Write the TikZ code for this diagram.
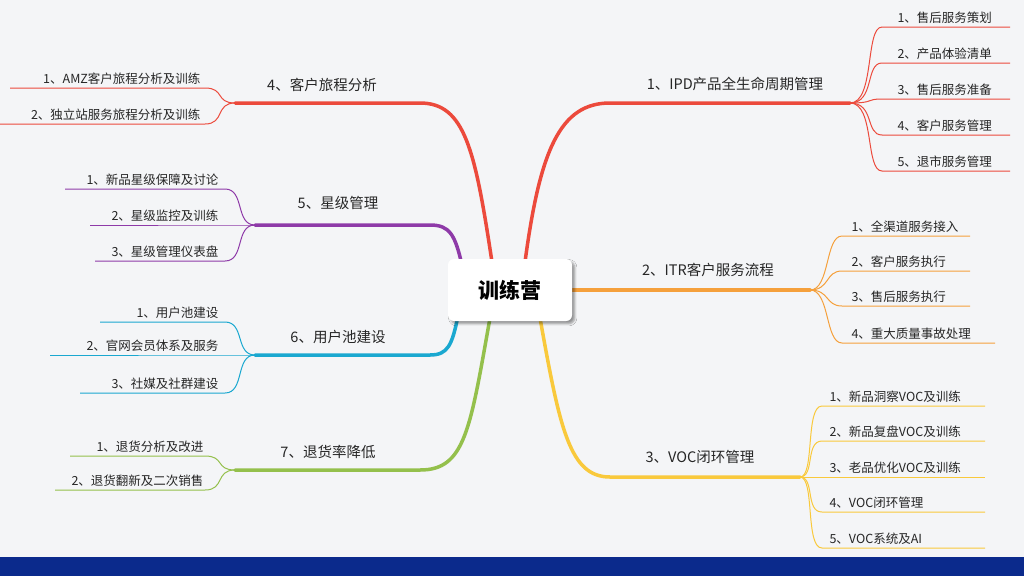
\documentclass[tikz,border=0pt]{standalone}
\usepackage{fontspec}
\setmainfont{Noto Sans CJK SC}
\usetikzlibrary{shadows.blur}
\definecolor{bgc}{HTML}{F4F5F7}
\definecolor{bandc}{HTML}{0B2A8C}
\definecolor{cred}{HTML}{EC4A3C}
\definecolor{cora}{HTML}{F5A03C}
\definecolor{cyel}{HTML}{F9C93C}
\definecolor{cpur}{HTML}{8E3AA8}
\definecolor{ccya}{HTML}{1AA8D0}
\definecolor{cgrn}{HTML}{94C04C}
\tikzset{
  mainlbl/.style={font=\fontsize{14.5}{17}\selectfont, text=black!85},
  sublbl/.style={font=\fontsize{12.5}{15}\selectfont, text=black!85},
  trunk/.style={line width=3.5pt, line cap=round},
  twig/.style={line width=1pt}
}
\begin{document}
\begin{tikzpicture}[x=1pt,y=-1pt]
\fill[bgc] (0,0) rectangle (1024,576);
\fill[bandc] (0,557) rectangle (1024,576);
\useasboundingbox (0,0) rectangle (1024,576);
% trunks
\draw[trunk,cred] (525,262) .. controls (540,150) and (560,103) .. (610,103) -- (850,103) coordinate (j1);
\draw[trunk,cora] (570,290) -- (810,290) coordinate (j2);
\draw[trunk,cyel] (540,318) .. controls (560,430) and (570,477) .. (610,477) -- (800,477) coordinate (j3);
\draw[trunk,cred] (492,262) .. controls (475,150) and (465,103) .. (420,103) -- (235,103) coordinate (j4);
\draw[trunk,cpur] (462,265) .. controls (455,235) and (450,225) .. (430,225) -- (255,225) coordinate (j5);
\draw[trunk,ccya] (458,316) .. controls (452,345) and (448,355) .. (430,355) -- (255,355) coordinate (j6);
\draw[trunk,cgrn] (490,318) .. controls (470,430) and (465,470) .. (420,470) -- (235,470) coordinate (j7);
% center
\node[fill=white, rounded corners=6pt, blur shadow, minimum width=124pt, minimum height=62pt,
  font=\fontsize{21}{25}\selectfont\bfseries] (hub) at (510,290) {训练营};
% main labels
\node[mainlbl] (m1) at (735,84) {1、IPD产品全生命周期管理};
\node[mainlbl] (m2) at (708,270) {2、ITR客户服务流程};
\node[mainlbl] (m3) at (700,457) {3、VOC闭环管理};
\node[mainlbl] (m4) at (322,85) {4、客户旅程分析};
\node[mainlbl] (m5) at (338,203) {5、星级管理};
\node[mainlbl] (m6) at (338,337) {6、用户池建设};
\node[mainlbl] (m7) at (328,452) {7、退货率降低};
% right sub branches
\foreach \y/\t in {27/1、售后服务策划, 63/2、产品体验清单, 99/3、售后服务准备, 135/4、客户服务管理, 171/5、退市服务管理}{
  \draw[twig,cred] (j1) .. controls (875,103) and (865,\y) .. (882,\y) -- (1010,\y);
  \node[sublbl, anchor=south west] at (894,\y) {\t};
}
\foreach \y/\t/\e in {236/1、全渠道服务接入/970, 271/2、客户服务执行/970, 306/3、售后服务执行/970, 343/4、重大质量事故处理/995}{
  \draw[twig,cora] (j2) .. controls (830,290) and (825,\y) .. (842,\y) -- (\e,\y);
  \node[sublbl, anchor=south west] at (848,\y) {\t};
}
\foreach \y/\t in {406/1、新品洞察VOC及训练, 441/2、新品复盘VOC及训练, 477/3、老品优化VOC及训练, 512/4、VOC闭环管理, 548/5、VOC系统及AI}{
  \draw[twig,cyel] (j3) .. controls (815,477) and (805,\y) .. (822,\y) -- (985,\y);
  \node[sublbl, anchor=south west] at (826,\y) {\t};
}
% left sub branches
\foreach \y/\t/\e in {88/1、AMZ客户旅程分析及训练/10, 124/2、独立站服务旅程分析及训练/0}{
  \draw[twig,cred] (j4) .. controls (215,103) and (225,\y) .. (205,\y) -- (\e,\y);
  \node[sublbl, anchor=south east] at (204,\y) {\t};
}
\foreach \y/\t/\e in {189/1、新品星级保障及讨论/65, 225/2、星级监控及训练/90, 261/3、星级管理仪表盘/95}{
  \draw[twig,cpur] (j5) .. controls (235,225) and (245,\y) .. (225,\y) -- (\e,\y);
  \node[sublbl, anchor=south east] at (222,\y) {\t};
}
\foreach \y/\t/\e in {322/1、用户池建设/100, 355/2、官网会员体系及服务/50, 393/3、社媒及社群建设/80}{
  \draw[twig,ccya] (j6) .. controls (235,355) and (245,\y) .. (225,\y) -- (\e,\y);
  \node[sublbl, anchor=south east] at (222,\y) {\t};
}
\foreach \y/\t/\e in {456/1、退货分析及改进/70, 490/2、退货翻新及二次销售/55}{
  \draw[twig,cgrn] (j7) .. controls (215,470) and (225,\y) .. (205,\y) -- (\e,\y);
  \node[sublbl, anchor=south east] at (207,\y) {\t};
}
\end{tikzpicture}
\end{document}
